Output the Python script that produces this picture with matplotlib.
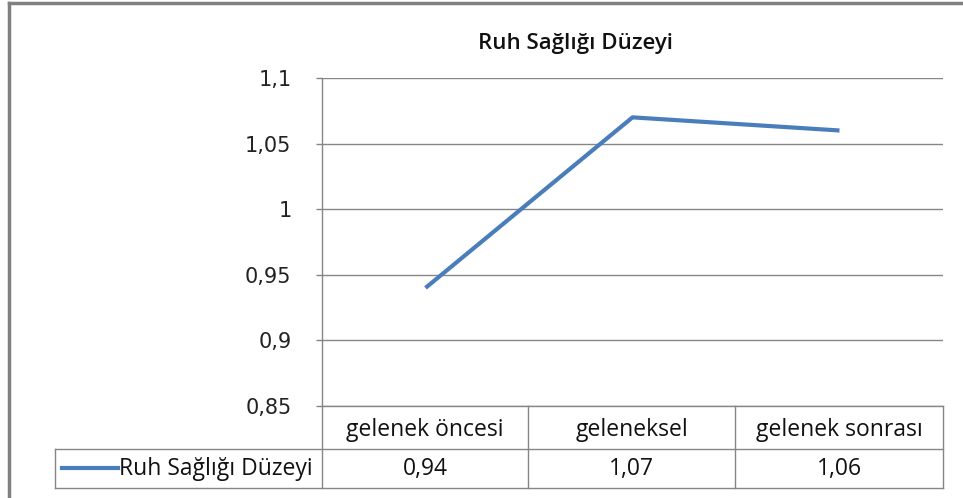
import matplotlib.pyplot as plt
from matplotlib.lines import Line2D

# data
categories = ['gelenek öncesi', 'geleneksel', 'gelenek sonrası']
values = [0.94, 1.07, 1.06]
value_labels = ['0,94', '1,07', '1,06']
series_name = 'Ruh Sağlığı Düzeyi'
yticks = [0.85, 0.9, 0.95, 1.0, 1.05, 1.1]
ytick_labels = ['0,85', '0,9', '0,95', '1', '1,05', '1,1']

W, H = 963, 498
line_col = '#4A7EBB'
grid_col = '#868686'
txt_font = ['Open Sans', 'DejaVu Sans']

fig = plt.figure(figsize=(W / 100, H / 100), dpi=100)

def fx(px):
    return px / W

def fy(py):
    return 1 - py / H

# plot area in pixels
x0, x1, y0, y1 = 322, 943, 78, 406
ax = fig.add_axes([fx(x0), fy(y1), fx(x1 - x0), (y1 - y0) / H])
xs = range(len(categories))
ax.plot(xs, values, color=line_col, lw=3, solid_capstyle='butt')
ax.set_xlim(-0.5, len(categories) - 0.5)
ax.set_ylim(0.85, 1.1)
ax.set_yticks(yticks)
ax.set_yticklabels(ytick_labels, fontsize=15, color='#222222')
ax.set_xticks([])
ax.tick_params(axis='y', length=4, width=1, color=grid_col, pad=18)
for v in yticks:
    ax.axhline(v, color=grid_col, lw=1, zorder=0)
for s in ['top', 'right', 'bottom']:
    ax.spines[s].set_visible(False)
ax.spines['left'].set_color(grid_col)
ax.spines['left'].set_linewidth(1)

fig.text(fx(575), fy(44), series_name, ha='center', va='center',
         fontsize=16, fontweight='semibold', family=txt_font, color='#111111')

# data table below the plot
def hline(px0, px1, py, **kw):
    fig.add_artist(Line2D([fx(px0), fx(px1)], [fy(py), fy(py)], color=grid_col, lw=1, **kw))

def vline(px, py0, py1, **kw):
    fig.add_artist(Line2D([fx(px), fx(px)], [fy(py0), fy(py1)], color=grid_col, lw=1, **kw))

col_edges = [322, 528, 735, 943]
row1, row2, row3 = 406, 449, 488
legend_left = 55
hline(x0, x1, row1)
hline(legend_left, x1, row2)
hline(legend_left, x1, row3)
vline(legend_left, row2, row3)
vline(x0, row1, row3)
for e in col_edges[1:]:
    vline(e, row1, row3)

for i, cat in enumerate(categories):
    cx = (col_edges[i] + col_edges[i + 1]) / 2
    fig.text(fx(cx), fy(430), cat, ha='center', va='center',
             fontsize=16.5, family=txt_font, color='#111111')
    fig.text(fx(cx), fy(469), value_labels[i], ha='center', va='center',
             fontsize=16.5, family=txt_font, color='#111111')

fig.add_artist(Line2D([fx(62), fx(118)], [fy(468), fy(468)], color=line_col, lw=3))
fig.text(fx(119), fy(469), series_name, ha='left', va='center',
         fontsize=16.5, family=txt_font, color='#111111')

# outer frame (top and left edges visible)
fig.add_artist(Line2D([fx(9), fx(963)], [fy(3), fy(3)], color='#808080', lw=2.5))
fig.add_artist(Line2D([fx(9), fx(9)], [fy(3), fy(498)], color='#808080', lw=2.5))

fig.savefig('out.png', dpi=100)
